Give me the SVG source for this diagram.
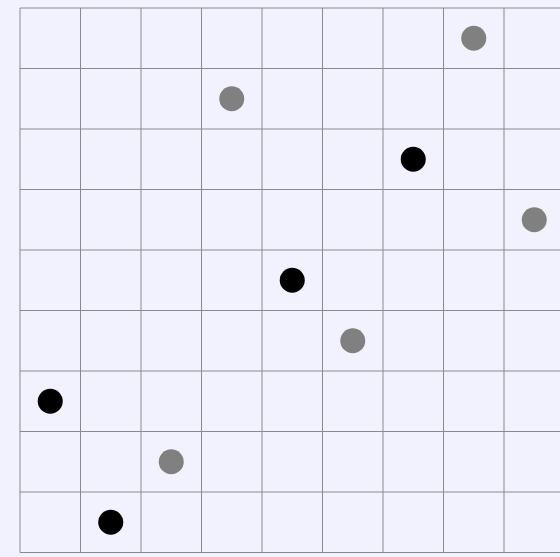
<svg xmlns="http://www.w3.org/2000/svg" width="560" height="557" viewBox="0 0 560 557">
<style>
.grid line{stroke:#8a8a8a;stroke-width:1}
.g{fill:#808080}
.b{fill:#000}
</style>
<rect width="560" height="557" fill="#f2f2fe"/>
<g id="grid" class="grid">
<line x1="20" y1="8" x2="20" y2="552.5"/>
<line x1="80.5" y1="8" x2="80.5" y2="552.5"/>
<line x1="141" y1="8" x2="141" y2="552.5"/>
<line x1="201.5" y1="8" x2="201.5" y2="552.5"/>
<line x1="262" y1="8" x2="262" y2="552.5"/>
<line x1="322.5" y1="8" x2="322.5" y2="552.5"/>
<line x1="383" y1="8" x2="383" y2="552.5"/>
<line x1="443.5" y1="8" x2="443.5" y2="552.5"/>
<line x1="504" y1="8" x2="504" y2="552.5"/>
<line x1="564.5" y1="8" x2="564.5" y2="552.5"/>
<line x1="20" y1="8" x2="564.5" y2="8"/>
<line x1="20" y1="68.5" x2="564.5" y2="68.5"/>
<line x1="20" y1="129" x2="564.5" y2="129"/>
<line x1="20" y1="189.5" x2="564.5" y2="189.5"/>
<line x1="20" y1="250" x2="564.5" y2="250"/>
<line x1="20" y1="310.5" x2="564.5" y2="310.5"/>
<line x1="20" y1="371" x2="564.5" y2="371"/>
<line x1="20" y1="431.5" x2="564.5" y2="431.5"/>
<line x1="20" y1="492" x2="564.5" y2="492"/>
<line x1="20" y1="552.5" x2="564.5" y2="552.5"/>
</g>
<g id="dots">
<circle id="d1" class="g" cx="473.75" cy="38.25" r="12.5"/>
<circle id="d2" class="g" cx="231.75" cy="98.75" r="12.5"/>
<circle id="d3" class="b" cx="413.25" cy="159.25" r="12.5"/>
<circle id="d4" class="g" cx="534.25" cy="219.75" r="12.5"/>
<circle id="d5" class="b" cx="292.25" cy="280.25" r="12.5"/>
<circle id="d6" class="g" cx="352.75" cy="340.75" r="12.5"/>
<circle id="d7" class="b" cx="50.25" cy="401.25" r="12.5"/>
<circle id="d8" class="g" cx="171.25" cy="461.75" r="12.5"/>
<circle id="d9" class="b" cx="110.75" cy="522.25" r="12.5"/>
</g>
</svg>
